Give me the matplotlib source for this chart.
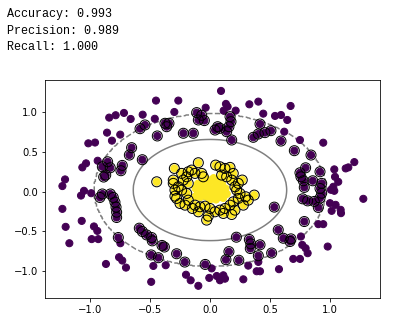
import numpy as np
import matplotlib
matplotlib.use("Agg")
import matplotlib.pyplot as plt

# --- scores shown above the plot ---
accuracy = 0.993
precision = 0.989
recall = 1.000

# --- outer ring (class 0), points that are not support vectors ---
outer_plain = [
    (-0.45, 1.15), (-0.264, 1.15), (-0.786, 0.965), (-0.84, 0.935), (-0.717, 0.994),
    (-0.661, 0.918), (-0.561, 0.972), (-0.46, 0.92), (-0.297, 1.006), (-0.858, 0.745),
    (-0.748, 0.72), (-0.817, 0.644), (-1.014, 0.61), (-0.958, 0.62), (-1.033, 0.357),
    (-1.064, 0.306), (-0.936, 0.39), (-1.208, 0.154), (-1.23, 0.07), (-1.05, 0.01),
    (-1.075, -0.05), (-0.99, -0.02), (-1.23, -0.218), (-1.069, -0.37), (-1.203, -0.445),
    (-0.967, -0.44), (-0.939, -0.496), (-0.986, -0.60), (-0.931, -0.60), (-1.172, -0.652),
    (-0.747, -0.652), (-0.758, -0.829), (-0.731, -0.871), (-0.867, -0.914), (-0.70, -0.96),
    (-0.472, -0.939), (-0.369, -0.93), (-0.49, -1.14), (-0.2, -1.05), (-0.161, -1.12),
    (-0.097, -1.19), (0.014, -0.97), (-0.006, -1.09), (0.056, -1.066), (0.083, -1.12),
    (0.111, -1.057), (0.125, -1.10), (0.278, -1.108), (0.319, -0.935), (0.403, -0.888),
    (0.389, -1.006), (0.417, -1.006), (0.575, -0.98), (0.092, 1.272), (-0.036, 1.06),
    (0.133, 1.108), (0.147, 1.073), (0.114, 1.023), (0.328, 1.103), (0.403, 1.137),
    (0.214, 1.023), (0.444, 0.985), (0.672, 1.082), (0.542, 0.956), (0.592, 0.968),
    (0.644, 0.905), (0.619, 0.757), (0.75, 0.652), (0.944, 0.618), (1.036, 0.281),
    (1.042, 0.187), (1.069, 0.124), (1.028, 0.061), (1.131, 0.293), (1.153, 0.306),
    (1.203, 0.373), (1.008, 0.023), (1.036, 0.01), (1.0, -0.146), (1.047, -0.167),
    (1.014, -0.243), (1.089, -0.23), (1.092, -0.272), (1.278, -0.091), (0.903, -0.411),
    (0.944, -0.411), (0.758, -0.567), (0.769, -0.673), (0.797, -0.715), (0.814, -0.778),
    (0.981, -0.694), (0.694, -0.85), (0.75, -0.85),
]

# --- outer ring (class 0), support vectors ---
outer_sv = [
    (-0.583, 0.795), (-0.542, 0.842), (-0.439, 0.703), (-0.653, 0.555), (-0.672, 0.462),
    (-0.564, 0.403), (-0.853, 0.377), (-0.897, 0.314), (-0.831, 0.301), (-0.731, 0.331),
    (-0.742, 0.264), (-0.869, 0.209), (-0.886, 0.184), (-0.897, -0.03), (-0.83, -0.03),
    (-0.917, -0.074), (-0.806, -0.074), (-0.792, -0.133), (-0.783, -0.196), (-0.778, -0.26),
    (-0.778, -0.327), (-0.764, -0.58), (-0.589, -0.462), (-0.564, -0.504), (-0.528, -0.547),
    (-0.486, -0.58), (-0.481, -0.622), (-0.49, -0.80), (-0.43, -0.835), (-0.40, -0.68),
    (-0.38, -0.70), (-0.278, -0.785), (-0.21, -0.89), (-0.04, -0.92),
    (-0.111, 0.998), (-0.097, 0.905), (-0.047, 0.897), (-0.069, 0.964), (-0.375, 0.863),
    (-0.342, 0.863), (-0.361, 0.82), (0.064, 0.82), (0.083, 0.80), (0.042, 0.778),
    (0.167, 0.947), (0.175, 0.884), (0.158, 0.82), (0.139, 0.757), (0.181, 0.652),
    (0.417, 0.854), (0.403, 0.728), (0.458, 0.745), (0.361, 0.686), (-0.222, 0.737),
    (-0.139, 0.737), (0.508, 0.77),
    (0.592, 0.639), (0.703, 0.517), (0.842, 0.462), (0.797, 0.301), (0.75, 0.238),
    (0.758, 0.187), (0.778, 0.137), (0.786, 0.053), (0.917, 0.251), (0.856, 0.137),
    (0.931, 0.104), (0.917, 0.04), (0.772, -0.091), (0.814, -0.117), (0.869, -0.124),
    (0.917, -0.082), (0.903, -0.2), (0.931, -0.02), (0.536, -0.196), (0.786, -0.378),
    (0.569, -0.483), (0.611, -0.589), (0.667, -0.63), (0.675, -0.597), (0.514, -0.776),
    (0.22, -0.576), (0.328, -0.605), (0.340, -0.66), (0.336, -0.719), (0.417, -0.672),
    (0.403, -0.81), (0.158, -0.758), (0.133, -0.86), (0.24, -0.867),
]

# --- inner blob (class 1), support vectors ---
inner_sv = [
    (-0.444, 0.124),
    (-0.097, 0.365), (-0.297, 0.293), (0.047, 0.335), (0.083, 0.314), (0.125, 0.293),
    (0.167, 0.306), (0.194, 0.23), (0.269, 0.146), (0.236, 0.104), (0.369, -0.044),
    (0.297, -0.065), (0.181, -0.289), (-0.028, -0.36), (-0.014, -0.31), (-0.147, -0.213),
    (-0.292, -0.057), (-0.306, 0.146), (-0.236, 0.23), (-0.194, 0.187), (-0.181, 0.25),
    (-0.153, 0.272), (-0.125, 0.23), (-0.069, 0.23), (-0.056, 0.187), (-0.264, 0.061),
    (-0.236, 0.019), (-0.194, -0.023), (-0.278, -0.086), (-0.25, -0.15), (-0.208, -0.171),
    (-0.181, -0.108), (-0.125, -0.171), (-0.083, -0.192), (-0.042, -0.184), (0.0, -0.213),
    (0.042, -0.255), (0.083, -0.234), (0.125, -0.213), (0.167, -0.171), (0.194, -0.129),
    (0.236, -0.086), (0.25, -0.023), (0.222, 0.019), (0.208, 0.061), (0.181, 0.146),
    (0.139, 0.187), (0.097, 0.209), (-0.222, 0.146), (-0.181, 0.104), (0.278, -0.171),
    (0.319, -0.108), (0.208, -0.234), (0.111, -0.276), (-0.097, -0.255), (-0.292, 0.019),
    (-0.306, 0.104),
]

# --- inner blob (class 1), not support vectors ---
inner_plain = [
    (-0.10, 0.10), (-0.05, 0.12), (0.0, 0.13), (0.05, 0.12), (0.10, 0.10),
    (-0.12, 0.04), (-0.07, 0.05), (-0.02, 0.06), (0.03, 0.05), (0.08, 0.05),
    (0.13, 0.04), (-0.10, -0.02), (-0.05, -0.01), (0.0, 0.0), (0.05, -0.01),
    (0.10, -0.02), (0.14, -0.03), (-0.08, -0.07), (-0.03, -0.06), (0.02, -0.07),
    (0.07, -0.07), (0.11, -0.08), (-0.03, 0.16), (0.03, 0.17), (0.08, 0.16),
    (-0.12, -0.06), (0.0, -0.10), (0.05, -0.10),
]

# decision function contours: level -> radius of the (nearly circular) boundary
contour_levels = [-1, 0, 1]
contour_radii = [0.97, 0.64, 0.12]
contour_center = (0.0, 0.02)

groups = [(outer_plain, 0), (outer_sv, 0), (inner_sv, 1), (inner_plain, 1)]
X = np.array([p for pts, _ in groups for p in pts])
y = np.array([lab for pts, lab in groups for _ in pts])
sv = np.array(outer_sv + inner_sv)

fig = plt.figure(figsize=(393 / 72, 325 / 72), dpi=72)
ax = fig.add_axes([45 / 393, 27 / 325, 335 / 393, 218 / 325])

ax.scatter(X[:, 0], X[:, 1], c=y, s=50, cmap='viridis')

# margins and boundary
xlim = (-1.375, 1.417)
ylim = (-1.344, 1.41)
gx, gy = np.meshgrid(np.linspace(*xlim, 300), np.linspace(*ylim, 300))
r = np.hypot(gx - contour_center[0], gy - contour_center[1])
Z = np.interp(r, contour_radii[::-1], contour_levels[::-1], left=1.5, right=-1.5)
ax.contour(gx, gy, Z, levels=contour_levels, colors='k', alpha=0.5,
           linestyles=['--', '-', '--'], zorder=0.5)

ax.scatter(sv[:, 0], sv[:, 1], s=100, linewidth=1, facecolors='none', edgecolors='k')

ax.set_xlim(xlim)
ax.set_ylim(ylim)

fig.text(7 / 393, 1 - 8 / 325,
         f"Accuracy: {accuracy:.3f}\nPrecision: {precision:.3f}\nRecall: {recall:.3f}",
         family='Liberation Mono', fontsize=11.7, va='top', ha='left', linespacing=1.5)

fig.savefig('out.png', dpi=72)
